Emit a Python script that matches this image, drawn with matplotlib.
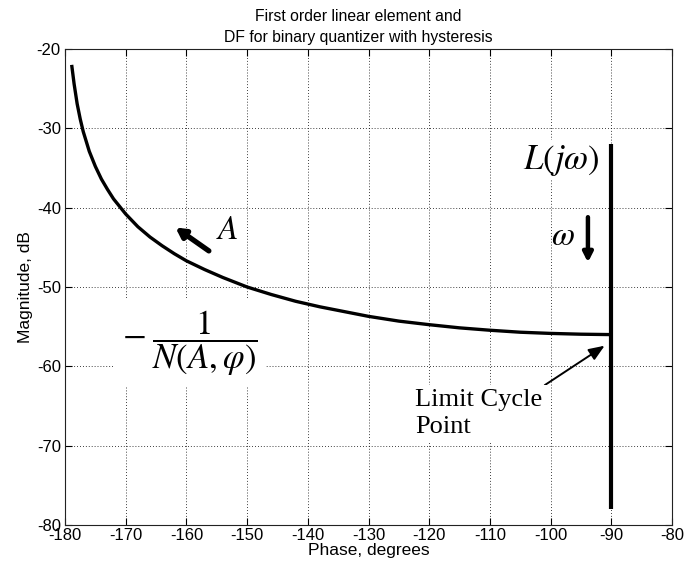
import matplotlib
matplotlib.use("Agg")
import matplotlib.pyplot as plt

# Describing-function locus -1/N(A, phi): phase (deg) and magnitude (dB)
df_phase = [-178.9, -178.5, -178.0, -177.5, -177.0, -176.0, -175.0, -174.0,
            -173.0, -172.0, -170.0, -168.0, -166.0, -164.0, -162.0, -160.0,
            -157.0, -154.0, -150.0, -146.0, -142.0, -138.0, -134.0, -130.0,
            -125.0, -120.0, -115.0, -110.0, -105.0, -100.0, -95.0, -90.0]
df_mag = [-22.0, -24.4, -26.9, -28.8, -30.4, -32.9, -34.8, -36.4,
          -37.7, -38.9, -40.8, -42.4, -43.7, -44.8, -45.8, -46.7,
          -47.8, -48.8, -50.0, -50.95, -51.8, -52.5, -53.1, -53.7,
          -54.3, -54.75, -55.15, -55.45, -55.7, -55.85, -55.95, -56.0]

# First order linear element L(jw): constant -90 deg phase
lin_phase = [-90.0, -90.0]
lin_mag = [-32.0, -78.0]

# Limit cycle point (intersection)
lc_phase = -90.0
lc_mag = -56.0

x_ticks = [-180, -170, -160, -150, -140, -130, -120, -110, -100, -90, -80]
y_ticks = [-80, -70, -60, -50, -40, -30, -20]

plt.rcParams['font.family'] = ['Liberation Sans', 'DejaVu Sans']
plt.rcParams['mathtext.fontset'] = 'stix'
plt.rcParams['axes.unicode_minus'] = False

W, H = 693, 565
fig = plt.figure(figsize=(W / 100, H / 100), dpi=100)
ax = fig.add_axes([65 / W, 1 - 525 / H, (672 - 65) / W, (525 - 49) / H])

ax.plot(df_phase, df_mag, color='black', lw=2.4, solid_capstyle='butt', zorder=4)
ax.plot(lin_phase, lin_mag, color='black', lw=3.0, solid_capstyle='butt', zorder=4)

ax.set_xlim(-180, -80)
ax.set_ylim(-80, -20)
ax.set_xticks(x_ticks)
ax.set_yticks(y_ticks)
ax.grid(True, color='black', linestyle=(0, (1, 2.5)), linewidth=0.6)
ax.tick_params(direction='in', top=True, right=True, length=5, width=0.8,
               labelsize=12, colors='black')
ax.tick_params(axis='x', pad=2)
ax.tick_params(axis='y', pad=3)
for s in ax.spines.values():
    s.set_linewidth(0.8)
    s.set_color('#222222')

ax.set_xlabel('Phase, degrees', fontsize=12.5, labelpad=0)
ax.set_ylabel('Magnitude, dB', fontsize=12.5, labelpad=3)
ax.text(0.483, 1.008, 'First order linear element and\nDF for binary quantizer with hysteresis',
        transform=ax.transAxes, ha='center', va='bottom', fontsize=11.3,
        linespacing=1.5)

serif = ['Liberation Serif', 'DejaVu Serif']

# Describing function label
ax.text(-159.5, -57.1, r'$-\;\dfrac{1}{N\left(A,\varphi\right)}$', fontsize=25,
        ha='center', va='center', zorder=5,
        bbox=dict(facecolor='white', edgecolor='none', pad=6))

# Amplitude direction
ax.annotate('', xy=(-161.8, -42.5), xytext=(-156.3, -45.45),
            arrowprops=dict(arrowstyle='-|>,head_length=0.55,head_width=0.3',
                            color='black', lw=3.8, shrinkA=0, shrinkB=0),
            zorder=5)
ax.text(-153.3, -42.9, r'$A$', fontsize=24, ha='center', va='center', zorder=5)

# Linear element label and frequency direction
ax.text(-92.0, -34.0, r'$L\left(j\omega\right)$', fontsize=25, ha='right',
        va='center', zorder=5,
        bbox=dict(facecolor='white', edgecolor='none', pad=2))
ax.text(-97.9, -43.6, r'$\omega$', fontsize=24, ha='center', va='center', zorder=5)
ax.annotate('', xy=(-93.85, -46.9), xytext=(-93.85, -41.2),
            arrowprops=dict(arrowstyle='-|>,head_length=0.55,head_width=0.28',
                            color='black', lw=3.2, shrinkA=0, shrinkB=0),
            zorder=5)

# Limit cycle point
ax.annotate('Limit Cycle\nPoint', xy=(lc_phase - 1.1, lc_mag - 1.4),
            xytext=(-122.3, -62.9), fontsize=19, family=serif,
            ha='left', va='top', linespacing=1.3,
            bbox=dict(facecolor='white', edgecolor='none', pad=3),
            arrowprops=dict(arrowstyle='-|>,head_length=0.5,head_width=0.2',
                            color='black', lw=1.4, shrinkA=0, shrinkB=0,
                            relpos=(0.95, 0.97)),
            zorder=5)

fig.savefig('out.png', dpi=100, facecolor='white')
